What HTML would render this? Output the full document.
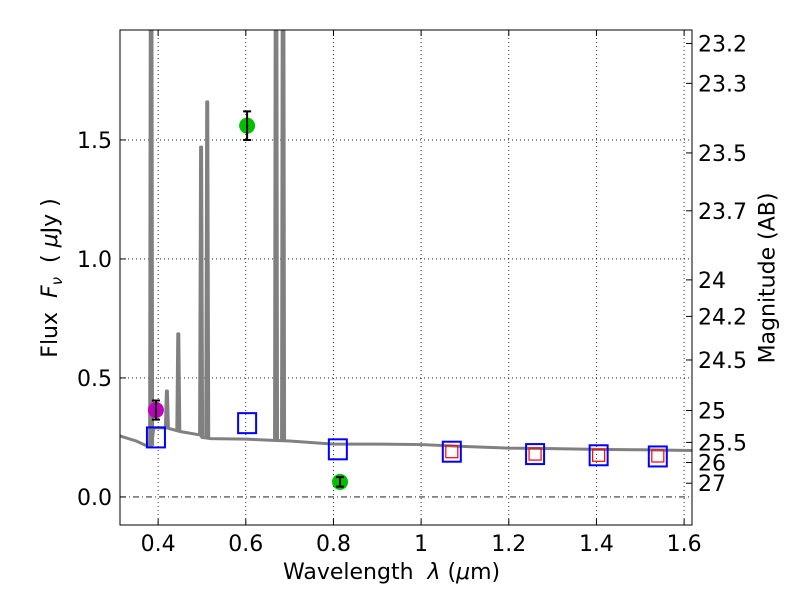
<!DOCTYPE html>
<html><head><meta charset="utf-8"><style>body{margin:0;background:#fff}svg text{font-family:"DejaVu Sans","Liberation Sans",sans-serif}</style></head>
<body>
<svg id="chart" width="800" height="600" xmlns="http://www.w3.org/2000/svg"></svg>
<script>
const xTicks=[0.4,0.6,0.8,1.0,1.2,1.4,1.6];
const xTickLabels=["0.4","0.6","0.8","1","1.2","1.4","1.6"];
const yTicks=[0.0,0.5,1.0,1.5];
const yTickLabels=["0.0","0.5","1.0","1.5"];
const magTicks=[23.2,23.3,23.5,23.7,24,24.2,24.5,25,25.5,26,27];
const contLam=[0.313,0.35,0.377,0.385,0.39,0.42,0.45,0.497,0.5,0.52,0.6,0.67,0.7,0.8,0.9,1.0,1.1,1.2,1.3,1.4,1.5,1.618];
const contFlux=[0.256,0.235,0.212,0.215,0.29,0.29,0.275,0.26,0.25,0.245,0.243,0.237,0.235,0.222,0.222,0.22,0.212,0.205,0.203,0.2,0.198,0.195];
const lineLam=[0.384,0.420,0.446,0.498,0.512,0.669,0.685];
const lineFlux=[3.0,0.445,0.685,1.47,1.66,3.0,3.0];
const photLam=[0.395,0.603,0.815];
const photFlux=[0.365,1.56,0.063];
const photErr=[0.04,0.06,0.02];
const photColor=["#bf00bf","#00bf00","#00bf00"];
const blueLam=[0.395,0.603,0.81,1.07,1.26,1.405,1.54];
const blueFlux=[0.25,0.31,0.2,0.19,0.18,0.175,0.17];
const redLam=[1.07,1.26,1.405,1.54];
const redFlux=[0.19,0.18,0.175,0.172];

const L=120,R=692,T=30,B=525,x0=0.313,x1=1.618,y0=-0.118,y1=1.962;
const X=v=>L+(v-x0)/(x1-x0)*(R-L);
const Y=v=>B-(v-y0)/(y1-y0)*(B-T);
const svg=document.getElementById('chart');
const NS="http://www.w3.org/2000/svg";
function mk(tag,attrs,parent){const e=document.createElementNS(NS,tag);for(const k in attrs)e.setAttribute(k,attrs[k]);(parent||svg).appendChild(e);return e;}
const defs=mk('defs',{});const cp=mk('clipPath',{id:'clip'},defs);mk('rect',{x:L,y:T,width:R-L,height:B-T},cp);
xTicks.forEach((t,i)=>{
 const g=mk('line',{x1:X(t),x2:X(t),y1:T,y2:B,stroke:'#000','stroke-dasharray':'1,3','stroke-width':0.8});
 
 mk('line',{x1:X(t),x2:X(t),y1:B,y2:B-6,stroke:'#000'});mk('line',{x1:X(t),x2:X(t),y1:T,y2:T+6,stroke:'#000'});
 const tx=mk('text',{x:X(t),y:B+26,'font-size':22,'text-anchor':'middle'});tx.textContent=xTickLabels[i];
 
});
yTicks.forEach((t,i)=>{
 const g=mk('line',{x1:L,x2:R,y1:Y(t),y2:Y(t),stroke:'#000','stroke-dasharray':t===0?'6,3,1,3':'1,3','stroke-width':0.8});
 
 mk('line',{x1:L,x2:L+6,y1:Y(t),y2:Y(t),stroke:'#000'});
 const tx=mk('text',{x:L-8,y:Y(t)+8,'font-size':22,'text-anchor':'end'});tx.textContent=yTickLabels[i];
 
});
magTicks.forEach(m=>{
 const f=Math.pow(10,(23.9-m)/2.5);const y=Y(f);
 mk('line',{x1:R,x2:R-6,y1:y,y2:y,stroke:'#000'});
 const tx=mk('text',{x:R+6,y:y+8,'font-size':22});tx.textContent=String(m);
 
});
const plot=mk('g',{'clip-path':'url(#clip)'});
let d='';contLam.forEach((l,i)=>{d+=(i?'L':'M')+X(l)+','+Y(contFlux[i]);});
const sp=mk('path',{d:d,fill:'none',stroke:'#808080','stroke-width':3},plot);

lineLam.forEach((l,i)=>{
 let base=contFlux[0];for(let j=0;j<contLam.length-1;j++){if(l>=contLam[j]&&l<=contLam[j+1]){base=contFlux[j]+(contFlux[j+1]-contFlux[j])*(l-contLam[j])/(contLam[j+1]-contLam[j]);}}
 const e=mk('path',{d:`M${X(l)-1.5},${Y(base)}L${X(l)-0.5},${Y(lineFlux[i])}L${X(l)+0.5},${Y(lineFlux[i])}L${X(l)+1.5},${Y(base)}`,fill:'none',stroke:'#808080','stroke-width':3,'stroke-linejoin':'round'},plot);
 
});
blueLam.forEach((l,i)=>{
 const r=mk('rect',{x:X(l)-9,y:Y(blueFlux[i])-10,width:18,height:20,fill:'none',stroke:'#0000ff','stroke-width':2},plot);
 
});
redLam.forEach((l,i)=>{
 const r=mk('rect',{x:X(l)-6,y:Y(redFlux[i])-6,width:12,height:12,fill:'none',stroke:'#ff0000','stroke-width':1.2},plot);
 
});
photLam.forEach((l,i)=>{
 const c=mk('circle',{cx:X(l),cy:Y(photFlux[i]),r:8,fill:photColor[i]},plot);
 
 const yt=Y(photFlux[i]+photErr[i]),yb=Y(photFlux[i]-photErr[i]);
 const e=mk('path',{d:`M${X(l)},${yt}V${yb}M${X(l)-4},${yt}H${X(l)+4}M${X(l)-4},${yb}H${X(l)+4}`,stroke:'#000','stroke-width':2,fill:'none'},plot);
 
});
mk('rect',{x:L,y:T,width:R-L,height:B-T,fill:'none',stroke:'#000','stroke-width':1});
</script>
<div style="position:absolute;left:0;top:0;width:800px;height:600px;pointer-events:none;font-family:'DejaVu Sans','Liberation Sans',sans-serif">
 <div style="position:absolute;left:283px;top:560px;font-size:22px;white-space:nowrap">Wavelength&nbsp; <i>λ</i> (<i>μ</i>m)</div>
 <div style="position:absolute;left:52px;top:278px;font-size:22px;white-space:nowrap;transform:translate(-50%,-50%) rotate(-90deg)">Flux&nbsp; <i>F<sub style="font-size:15px">ν</sub></i>&nbsp; ( <i>μ</i>Jy )</div>
 <div style="position:absolute;left:768px;top:278px;font-size:22px;white-space:nowrap;transform:translate(-50%,-50%) rotate(-90deg)">Magnitude (AB)</div>
</div>
</body></html>
